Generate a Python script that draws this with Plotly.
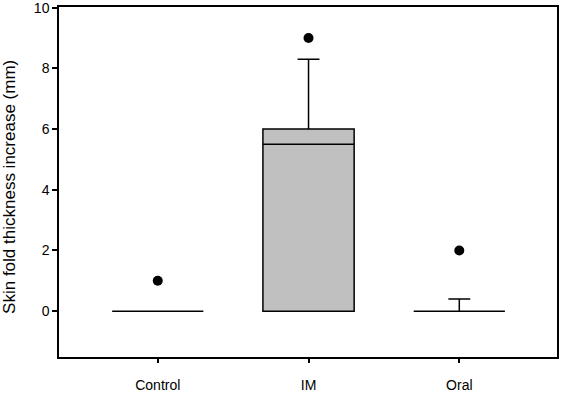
import plotly.graph_objects as go

categories = ["Control", "IM", "Oral"]
q1 = [0, 0, 0]
median = [0, 5.5, 0]
q3 = [0, 6.0, 0]
lower_fence = [0, 0, 0]
upper_fence = [0, 8.3, 0.4]
outliers = [1, 9, 2]
y_ticks = [0, 2, 4, 6, 8, 10]
y_title = "Skin fold thickness increase (mm)"

fig = go.Figure()
fig.add_trace(go.Box(
    x=categories, q1=q1, median=median, q3=q3,
    lowerfence=lower_fence, upperfence=upper_fence,
    fillcolor="#c0c0c0", line=dict(color="black", width=1.5),
    width=0.605, whiskerwidth=0.24, boxpoints=False, hoverinfo="skip",
))
fig.add_trace(go.Scatter(
    x=categories, y=outliers, mode="markers",
    marker=dict(color="black", size=10), hoverinfo="skip", cliponaxis=False,
))

axis_font = dict(family="Liberation Sans, Arial, sans-serif", color="black")
fig.update_layout(
    width=561, height=393,
    margin=dict(l=59, r=4, t=7, b=36, autoexpand=False),
    paper_bgcolor="white", plot_bgcolor="white",
    showlegend=False,
    font=axis_font,
)
fig.update_xaxes(
    type="category", range=[-0.655, 2.648], automargin=False,
    showline=True, linecolor="black", linewidth=1.5, mirror=True,
    ticks="outside", ticklen=4, tickwidth=1.5, tickcolor="black",
    showgrid=False, zeroline=False,
    tickfont=dict(size=14, **axis_font), ticklabelstandoff=10,
)
fig.update_yaxes(
    range=[-1.51, 10.02], tickvals=y_ticks, automargin=False,
    showline=True, linecolor="black", linewidth=1.5, mirror=True,
    ticks="outside", ticklen=5, tickwidth=1.5, tickcolor="black",
    showgrid=False, zeroline=False, ticklabeloverflow="allow",
    tickfont=dict(size=14, **axis_font),
)
fig.add_annotation(
    text=y_title, textangle=-90, showarrow=False,
    xref="paper", yref="paper", x=-0.0984, y=0.486,
    xanchor="center", yanchor="middle",
    font=dict(size=17, **axis_font),
)

fig.write_html("out.html", config={"displayModeBar": False},
               post_script="document.body.style.margin='0';")
